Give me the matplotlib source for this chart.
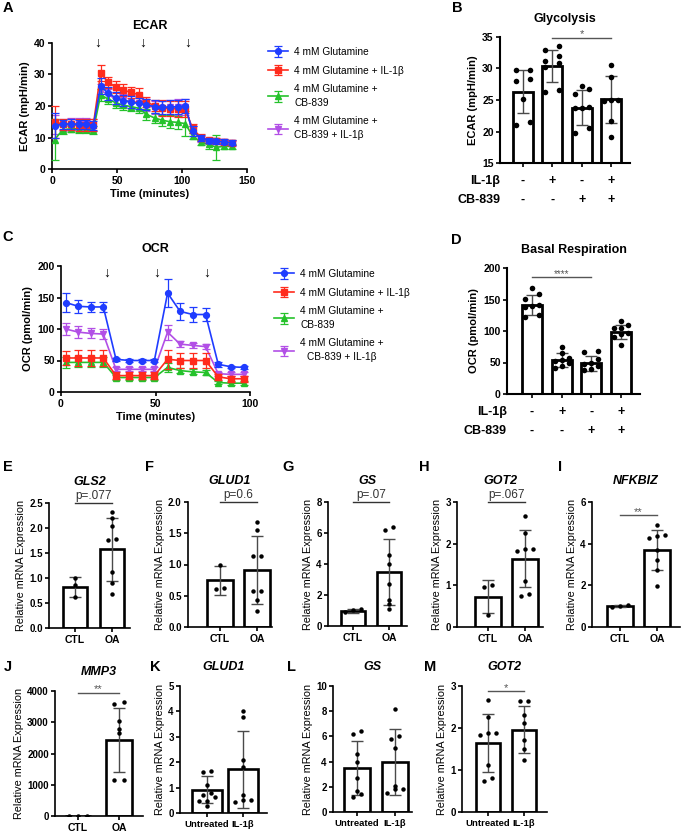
## Glutamine metabolism figure: Seahorse traces (A, C), summary bars (B, D) and qPCR bars (E-M).

import numpy as np
import matplotlib.pyplot as plt
import matplotlib.transforms as mtransforms
from matplotlib.ticker import FormatStrFormatter

plt.rcParams['font.family'] = ['Liberation Sans', 'DejaVu Sans']
plt.rcParams['axes.linewidth'] = 1.2
plt.rcParams['xtick.major.width'] = 1.2
plt.rcParams['ytick.major.width'] = 1.2
plt.rcParams['xtick.major.size'] = 3
plt.rcParams['ytick.major.size'] = 3
plt.rcParams['xtick.major.pad'] = 2
plt.rcParams['ytick.major.pad'] = 1.5

## ---------------- data ----------------
series_labels = ['4 mM Glutamine', '4 mM Glutamine + IL-1β',
                 '4 mM Glutamine +\nCB-839', '4 mM Glutamine +\nCB-839 + IL-1β']

ecar_time = [2.0, 8.1, 14.5, 20.6, 26.2, 31.8, 37.4, 43.3, 49.1, 54.7, 60.8, 66.7,
             72.5, 78.9, 84.7, 90.8, 96.7, 102.5, 108.1, 114.5, 120.4, 126.2, 132.6, 138.2]
ecar_glut = [13.8, 14.2, 14.3, 14.2, 14.2, 13.8, 26.3, 24.0, 22.6, 21.7, 21.3, 20.8,
             20.4, 19.8, 19.6, 19.7, 19.8, 19.9, 12.0, 9.8, 9.0, 8.8, 8.6, 8.3]
ecar_glut_err = [4, 1.5, 1.5, 1.5, 1.5, 1.5, 2.5, 2, 2, 1.8, 1.8, 1.8,
                 1.8, 2, 2, 2.2, 2.2, 2.2, 1.5, 1, 0.8, 0.8, 0.8, 0.8]
ecar_il1b = [15.0, 14.2, 14.2, 14.0, 14.0, 14.0, 30.4, 27.5, 26.0, 25.1, 24.3, 23.6,
             21.3, 20.1, 19.3, 19.2, 19.1, 19.0, 12.9, 10.0, 9.2, 9.0, 8.7, 8.4]
ecar_il1b_err = [5, 1.8, 1.8, 1.8, 1.8, 1.8, 2.5, 1.8, 1.8, 1.8, 1.8, 2,
                 1.5, 1.8, 2.5, 2.5, 2.5, 2.5, 1.5, 1, 0.8, 0.8, 0.8, 0.8]
ecar_cb839 = [9.3, 12.4, 12.8, 12.7, 12.6, 12.3, 23.5, 22.2, 21.0, 20.3, 19.8, 19.3,
              17.4, 16.2, 15.5, 15.0, 14.8, 14.4, 10.5, 8.5, 7.8, 6.9, 7.2, 7.2]
ecar_cb839_err = [6.5, 1.2, 1.2, 1.2, 1.2, 1.2, 2, 1.5, 1.5, 1.5, 1.5, 1.5,
                  1.8, 1.5, 1.8, 2, 2, 4, 1, 1, 1.5, 4, 1, 0.8]
ecar_both = [14.0, 14.0, 14.3, 14.3, 14.3, 14.0, 25.0, 23.5, 22.3, 21.8, 21.4, 21.0,
             20.3, 19.5, 19.3, 19.6, 19.8, 19.8, 12.0, 9.5, 8.8, 8.8, 8.5, 8.2]
ecar_both_err = [3, 2, 2, 1.8, 1.8, 1.8, 2, 2, 2, 2, 2, 2,
                 2, 2, 2.3, 2.3, 2.5, 2.5, 1.5, 1, 0.8, 0.8, 0.8, 0.8]
ecar_inject = [35, 70, 104]

ocr_time = [2.5, 9.2, 15.7, 22.4, 29.1, 36.0, 42.7, 49.4, 56.4, 63.0, 69.7, 76.5, 83.2, 89.9, 97.0]
ocr_glut = [142, 136, 135, 135, 52, 50, 50, 50, 157, 128, 123, 123, 44, 40, 39]
ocr_glut_err = [15, 10, 8, 8, 2, 2, 2, 2, 22, 13, 12, 11, 4, 2, 2]
ocr_il1b = [54, 54, 54, 54, 26, 26, 26, 26, 52, 50, 50, 50, 24, 21, 21]
ocr_il1b_err = [11, 13, 12, 12, 6, 6, 6, 6, 15, 12, 12, 12, 5, 5, 5]
ocr_cb839 = [47, 47, 47, 47, 23, 23, 23, 23, 39, 34, 32, 31, 15, 14, 14]
ocr_cb839_err = [9, 8, 8, 8, 4, 4, 4, 4, 7, 4, 4, 4, 3, 3, 3]
ocr_both = [100, 95, 93, 92, 36, 36, 36, 36, 95, 76, 74, 72, 29, 28, 28]
ocr_both_err = [10, 9, 8, 8, 3, 3, 3, 3, 12, 5, 4, 4, 3, 3, 3]
ocr_inject = [24, 50.5, 77]

il1b_signs = ['-', '+', '-', '+']
cb839_signs = ['-', '-', '+', '+']

gly_means = [26.3, 30.4, 23.8, 25.1]
gly_sd = [3.4, 2.6, 2.8, 3.7]
gly_pts = [[29.8, 29.8, 28.3, 28.0, 25.1, 21.0, 21.5],
           [32.9, 33.5, 32.0, 30.8, 31.2, 30.2, 26.2, 26.6],
           [27.3, 26.7, 25.9, 23.9, 23.8, 23.7, 19.8, 20.6],
           [30.6, 28.7, 25.0, 25.0, 24.9, 21.6, 19.1]]

bas_means = [141, 54, 49, 98]
bas_sd = [16, 11, 12, 11]
bas_pts = [[168, 159, 151, 142, 140, 138, 126, 123],
           [75, 65, 57, 54, 52, 50, 45, 42],
           [68, 67, 55, 50, 48, 45, 40, 38],
           [116, 110, 105, 104, 97, 96, 90, 78]]

oa_cats = ['CTL', 'OA']
il_cats = ['Untreated', 'IL-1β']

gls2_means = [0.82, 1.58]
gls2_sd = [0.20, 0.63]
gls2_pts = [[1.0, 0.86, 0.62], [2.32, 2.2, 2.05, 1.76, 1.79, 1.12, 0.91, 0.68]]

glud1_means = [0.75, 0.91]
glud1_sd = [0.23, 0.54]
glud1_pts = [[1.0, 0.61, 0.63], [1.68, 1.55, 1.14, 1.14, 0.58, 0.57, 0.44, 0.25]]

gs_means = [0.97, 3.5]
gs_sd = [0.12, 2.13]
gs_pts = [[1.1, 1.05, 0.88], [6.2, 6.4, 4.6, 4.0, 2.7, 1.7, 1.4, 1.1]]

got2_means = [0.73, 1.64]
got2_sd = [0.40, 0.69]
got2_pts = [[0.95, 1.0, 0.28], [2.67, 2.26, 1.83, 1.87, 1.87, 1.11, 0.74, 0.79]]

nfkbiz_means = [1.01, 3.69]
nfkbiz_sd = [0.03, 0.97]
nfkbiz_pts = [[1.02, 1.05, 0.98], [4.88, 4.29, 4.35, 4.4, 3.68, 3.2, 2.75, 1.95]]

mmp3_means = [5, 2430]
mmp3_sd = [3, 1030]
mmp3_pts = [[0, 0, 0], [3580, 3650, 3030, 2800, 2650, 1150, 1150]]

glud1_il_means = [0.92, 1.72]
glud1_il_sd = [0.53, 1.52]
glud1_il_pts = [[1.6, 1.67, 1.11, 0.78, 0.72, 0.47, 0.62, 0.46, 0.26],
                [4.03, 3.79, 2.07, 1.8, 0.69, 0.43, 0.5, 0.5]]

gs_il_means = [3.5, 3.95]
gs_il_sd = [2.13, 2.6]
gs_il_pts = [[6.2, 6.4, 4.6, 4.0, 2.7, 1.7, 1.2, 1.4],
             [8.2, 5.8, 6.0, 5.1, 2.05, 1.84, 1.84, 1.52]]

got2_il_means = [1.64, 1.96]
got2_il_sd = [0.69, 0.56]
got2_il_pts = [[2.67, 2.26, 1.83, 1.87, 1.87, 1.11, 0.75, 0.8],
               [2.65, 2.65, 2.32, 2.12, 1.71, 1.51, 1.24]]

## ---------------- drawing ----------------
W, H = 682, 832
fig = plt.figure(figsize=(W / 100, H / 100), dpi=100)


def px_axes(l, t, r, b):
    return fig.add_axes([l / W, 1 - b / H, (r - l) / W, (b - t) / H])


def fig_text(x, y, s, **kw):
    fig.text(x / W, 1 - y / H, s, **kw)


def bold_ticks(ax, size=7):
    ax.tick_params(labelsize=size)
    for lab in ax.get_xticklabels() + ax.get_yticklabels():
        lab.set_fontweight('bold')


def clean(ax):
    ax.spines['top'].set_visible(False)
    ax.spines['right'].set_visible(False)


def spread(vals, thr, step, pair):
    # GraphPad-like scatter: close values side by side, at most 3 per row
    vals = np.asarray(vals, float)
    order = np.argsort(vals)
    offs = np.zeros(len(vals))
    groups, cur = [], [order[0]]
    for i in order[1:]:
        if vals[i] - vals[cur[0]] < thr and len(cur) < 3:
            cur.append(i)
        else:
            groups.append(cur)
            cur = [i]
    groups.append(cur)
    for g in groups:
        n = len(g)
        for k, i in enumerate(g):
            offs[i] = (-pair if k == 0 else pair) if n == 2 else (k - (n - 1) / 2) * step
    return offs


def bars_dots(ax, pts, means, sds, width, ms, step, pair, bar_lw, cap, thr_frac=0.035):
    x = np.arange(len(means))
    ax.bar(x, means, width=width, color='white', edgecolor='black', linewidth=bar_lw, zorder=1)
    ax.errorbar(x, means, yerr=sds, fmt='none', ecolor='#4a4a4a', elinewidth=1.0,
                capsize=cap, capthick=1.0, zorder=3)
    lo, hi = ax.get_ylim()
    for i, p in enumerate(pts):
        offs = spread(p, (hi - lo) * thr_frac, step, pair)
        ax.plot(i + offs, p, 'o', color='black', ms=ms, mec='none', zorder=4)


def sig(ax, x0, x1, y, txt, fs=8, color='#555555', dy=0.0):
    ax.plot([x0, x1], [y, y], color=color, lw=1.0, clip_on=False)
    ax.text((x0 + x1) / 2, y + dy, txt, ha='center', va='bottom', fontsize=fs, color=color)


colors = ['#1f3cff', '#ff2b1c', '#25c22b', '#b24fe6']
markers = ['o', 's', '^', 'v']


def trace_panel(ax, t, ys, errs, inject, xlim, ylim, xticks, yticks, ylabel, title,
                legend_xy, arrow_y, center_last=False):
    handles = [None] * 4
    for k in [3, 2, 1, 0]:
        h = ax.errorbar(t, ys[k], yerr=errs[k], color=colors[k], marker=markers[k], ms=4.2,
                        lw=1.2, elinewidth=0.9, capsize=2.8, capthick=0.9, zorder=5 - k,
                        clip_on=False)
        handles[k] = h
    ax.set_xlim(*xlim)
    ax.set_ylim(*ylim)
    ax.set_xticks(xticks)
    ax.set_yticks(yticks)
    bold_ticks(ax, 7.5)
    clean(ax)
    ax.set_xlabel('Time (minutes)', fontsize=8, fontweight='bold', labelpad=2)
    ax.set_ylabel(ylabel, fontsize=8, fontweight='bold', labelpad=3)
    ax.set_title(title, fontsize=9, fontweight='bold', pad=10)
    tr = mtransforms.blended_transform_factory(ax.transData, ax.transAxes)
    for xi in inject:
        ax.text(xi, arrow_y, '↓', transform=tr, ha='center', va='center', fontsize=10)
    leg = ax.legend(handles, series_labels, loc='upper left', frameon=False, fontsize=7.3,
                    bbox_to_anchor=(legend_xy[0] / W, 1 - legend_xy[1] / H),
                    bbox_transform=fig.transFigure, handlelength=2.0, handletextpad=0.6,
                    labelspacing=0.85, borderaxespad=0, borderpad=0)
    for txt in leg.get_texts():
        txt.set_linespacing(1.45)
    if center_last:
        leg.get_texts()[3].set_multialignment('center')


# ---- A: ECAR trace
axA = px_axes(52, 43, 247, 169)
trace_panel(axA, ecar_time, [ecar_glut, ecar_il1b, ecar_cb839, ecar_both],
            [ecar_glut_err, ecar_il1b_err, ecar_cb839_err, ecar_both_err], ecar_inject,
            (0, 150), (0, 40), [0, 50, 100, 150], [0, 10, 20, 30, 40],
            'ECAR (mpH/min)', 'ECAR', (268, 47), 1.0)

# ---- C: OCR trace
axC = px_axes(61, 266, 250, 392)
trace_panel(axC, ocr_time, [ocr_glut, ocr_il1b, ocr_cb839, ocr_both],
            [ocr_glut_err, ocr_il1b_err, ocr_cb839_err, ocr_both_err], ocr_inject,
            (0, 100), (0, 200), [0, 50, 100], [0, 50, 100, 150, 200],
            'OCR (pmol/min)', 'OCR', (274, 269), 0.95, center_last=True)


def treat_panel(rect, centers, pts, means, sds, ylim, yticks, ylabel, title, rows_y, sig_args):
    l, t, r, b = rect
    s = (centers[-1] - centers[0]) / 3
    ax = px_axes(l, t, r, b)
    ax.set_xlim((l - centers[0]) / s, (r - centers[0]) / s)
    ax.set_ylim(*ylim)
    bars_dots(ax, pts, means, sds, 20 / s, 4.0, 0.24, 0.24, 2.0, 4, 0.045)
    ax.set_xticks(range(4))
    ax.set_xticklabels([])
    ax.set_yticks(yticks)
    bold_ticks(ax, 7.5)
    clean(ax)
    ax.spines['left'].set_linewidth(1.5)
    ax.spines['bottom'].set_linewidth(1.5)
    ax.set_ylabel(ylabel, fontsize=8, fontweight='bold', labelpad=3)
    ax.set_title(title, fontsize=9, fontweight='bold', pad=11)
    tr = mtransforms.blended_transform_factory(ax.transData, fig.transFigure)
    for y, name, signs in zip(rows_y, ['IL-1β', 'CB-839'], [il1b_signs, cb839_signs]):
        fig_text(l, y, name, ha='right', va='center', fontsize=9, fontweight='bold')
        for i, sgn in enumerate(signs):
            ax.text(i, 1 - y / H, sgn, transform=tr, ha='center', va='center',
                    fontsize=9, fontweight='bold')
    sig(ax, *sig_args)
    return ax


# ---- B: Glycolysis
treat_panel((500, 37, 630, 163), (523, 611), gly_pts, gly_means, gly_sd, (15, 35),
            [15, 20, 25, 30, 35], 'ECAR (mpH/min)', 'Glycolysis', (181, 200),
            (1, 3, 34.9, '*', 8, '#555555', -0.3))

# ---- D: Basal respiration
treat_panel((507, 268, 640, 394), (532, 621), bas_pts, bas_means, bas_sd, (0, 200),
            [0, 50, 100, 150, 200], 'OCR (pmol/min)', 'Basal Respiration', (412, 431),
            (0, 2, 186, '****', 7, '#555555', -4))


def gene_panel(rect, centers, cats, pts, means, sds, ylim, yticks, fmt, title, width,
               sig_args, cat_fs=7.5):
    l, t, r, b = rect
    s = centers[1] - centers[0]
    ax = px_axes(l, t, r, b)
    ax.set_xlim((l - centers[0]) / s, (r - centers[0]) / s)
    ax.set_ylim(*ylim)
    bars_dots(ax, pts, means, sds, width, 3.2, 0.22, 0.11, 1.9, 4.5)
    ax.set_xticks([0, 1])
    ax.set_xticklabels(cats)
    ax.set_yticks(yticks)
    if fmt:
        ax.yaxis.set_major_formatter(FormatStrFormatter(fmt))
    bold_ticks(ax, 7)
    ax.tick_params(axis='x', labelsize=cat_fs)
    clean(ax)
    ax.set_ylabel('Relative mRNA Expression', fontsize=7.8, labelpad=2)
    fig_text((l + r) / 2, t - 21 if t < 600 else t - 19, title, ha='center', va='center',
             fontsize=9, fontweight='bold', style='italic')
    if sig_args:
        sig(ax, *sig_args)
    return ax


# ---- E-I: CTL vs OA
gene_panel((49, 503, 130, 628), (75, 112), oa_cats, gls2_pts, gls2_means, gls2_sd,
           (0, 2.5), [0, 0.5, 1.0, 1.5, 2.0, 2.5], '%.1f', 'GLS2', 0.65,
           (0, 1, 2.5, 'p=.077', 8.5, '#333333', 0.02))
gene_panel((188, 502, 272, 627), (220, 257), oa_cats, glud1_pts, glud1_means, glud1_sd,
           (0, 2.0), [0, 0.5, 1.0, 1.5, 2.0], '%.1f', 'GLUD1', 0.68,
           (0, 1, 2.0, 'p=0.6', 8.5, '#333333', 0.02))
gene_panel((328, 502, 407, 626), (353, 389), oa_cats, gs_pts, gs_means, gs_sd,
           (0, 8), [0, 2, 4, 6, 8], None, 'GS', 0.69,
           (0, 1, 8.0, 'p=.07', 8.5, '#333333', 0.06))
gene_panel((457, 502, 543, 627), (488, 525), oa_cats, got2_pts, got2_means, got2_sd,
           (0, 3), [0, 1, 2, 3], None, 'GOT2', 0.68,
           (0, 1, 3.0, 'p=.067', 8.5, '#333333', 0.02))
gene_panel((592, 502, 680, 627), (620, 657), oa_cats, nfkbiz_pts, nfkbiz_means, nfkbiz_sd,
           (0, 6), [0, 2, 4, 6], None, 'NFKBIZ', 0.68,
           (0, 1, 5.4, '**', 8, '#555555', -0.1))

# ---- J-M
gene_panel((55, 691, 143, 816), (78, 119), oa_cats, mmp3_pts, mmp3_means, mmp3_sd,
           (0, 4000), [0, 1000, 2000, 3000, 4000], None, 'MMP3', 0.63,
           (0, 1, 3950, '**', 8, '#555555', -60))
gene_panel((180, 686, 267, 813), (207, 243), il_cats, glud1_il_pts, glud1_il_means,
           glud1_il_sd, (0, 5), [0, 1, 2, 3, 4, 5], None, 'GLUD1', 0.85, None, 6.8)
gene_panel((333, 686, 412, 812), (357, 395), il_cats, gs_il_pts, gs_il_means, gs_il_sd,
           (0, 10), [0, 2, 4, 6, 8, 10], None, 'GS', 0.66, None, 6.8)
gene_panel((462, 686, 547, 812), (488, 524), il_cats, got2_il_pts, got2_il_means,
           got2_il_sd, (0, 3), [0, 1, 2, 3], None, 'GOT2', 0.67,
           (0, 1, 2.88, '*', 8, '#555555', -0.05), 6.8)

# ---- panel letters
for letter, x, y in [('A', 8, 8), ('B', 457, 8), ('C', 8, 237), ('D', 456, 240),
                     ('E', 8, 467), ('F', 150, 467), ('G', 288, 467), ('H', 424, 467),
                     ('I', 560, 467), ('J', 8, 667), ('K', 155, 667), ('L', 292, 667),
                     ('M', 430, 667)]:
    fig_text(x, y, letter, ha='center', va='center', fontsize=10.5, fontweight='bold')

plt.savefig('out.png', dpi=100)
